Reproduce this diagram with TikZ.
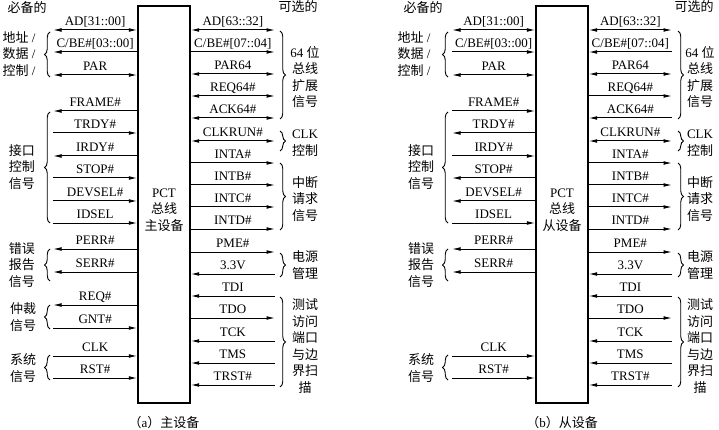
\documentclass[tikz,border=0pt]{standalone}
\usepackage{fontspec}
\setmainfont{Liberation Serif}
\newfontfamily\cjk{Noto Sans CJK SC}
\usetikzlibrary{arrows.meta,decorations.pathreplacing,calc}
\newcommand\zh[1]{{\cjk #1}}
\tikzset{
  sig/.style={line width=1pt, >={Latex[length=8.5pt,width=3.8pt]}},
  lab/.style={font=\fontsize{13}{15}\selectfont, inner sep=0pt, anchor=base, yshift=4.5pt},
  devbox/.style={draw, line width=1.4pt, minimum width=52pt, minimum height=397pt, inner sep=0pt},
  grp/.style={font=\fontsize{13}{16.6}\selectfont, align=center, inner sep=0pt},
  brc/.style={decorate, decoration={brace, amplitude=5.5pt}, line width=0.9pt},
}
% left-side signal: #1 box, #2 outer x, #3 y, #4 arrows, #5 label
\newcommand\lsig[5]{%
  \coordinate (#1l#3) at (#2,#3);
  \draw[sig,#4] (#1l#3) -- (#1l#3 -| #1.west) node[lab,midway] {#5};}
% right-side signal
\newcommand\rsig[5]{%
  \coordinate (#1r#3) at (#2,#3);
  \draw[sig,#4] (#1r#3 -| #1.east) -- (#1r#3) node[lab,midway] {#5};}
\begin{document}
\begin{tikzpicture}[x=1pt,y=-1pt]
\useasboundingbox (0,0) rectangle (719,430);
\fill[white] (0,0) rectangle (719,430);

% ---------------- panel (a) ----------------
\node[devbox] (mA) at (164,204.5) {};
\node[grp] (mAt) at (164,210) {PCT\\\zh{总线}\\\zh{主设备}};
\node[grp] (capA) at (164,423) {\zh{（}a\zh{）主设备}};
\node[grp] (reqA) at (27,8) {\zh{必备的}};
\node[grp] (optA) at (298,7) {\zh{可选的}};

\lsig{mA}{53}{30}{<->}{AD[31::00]}
\lsig{mA}{53}{52}{<-}{C/BE\#[03::00]}
\lsig{mA}{53}{75}{<->}{PAR}
\lsig{mA}{53}{111}{<-}{FRAME\#}
\lsig{mA}{53}{133}{->}{TRDY\#}
\lsig{mA}{53}{156}{<-}{IRDY\#}
\lsig{mA}{53}{178}{->}{STOP\#}
\lsig{mA}{53}{201}{->}{DEVSEL\#}
\lsig{mA}{53}{223}{->}{IDSEL}
\lsig{mA}{53}{249}{<-}{PERR\#}
\lsig{mA}{53}{272}{<-}{SERR\#}
\lsig{mA}{53}{305}{<-}{REQ\#}
\lsig{mA}{53}{328}{->}{GNT\#}
\lsig{mA}{53}{356}{->}{CLK}
\lsig{mA}{53}{378}{->}{RST\#}

\rsig{mA}{275}{30}{<->}{AD[63::32]}
\rsig{mA}{275}{52}{->}{C/BE\#[07::04]}
\rsig{mA}{275}{74}{<->}{PAR64}
\rsig{mA}{275}{96}{<->}{REQ64\#}
\rsig{mA}{275}{118}{<->}{ACK64\#}
\rsig{mA}{275}{141}{<->}{CLKRUN\#}
\rsig{mA}{275}{163}{->}{INTA\#}
\rsig{mA}{275}{185}{->}{INTB\#}
\rsig{mA}{275}{207}{->}{INTC\#}
\rsig{mA}{275}{229}{->}{INTD\#}
\rsig{mA}{275}{252}{->}{PME\#}
\rsig{mA}{275}{274}{<-}{3.3V}
\rsig{mA}{275}{296}{<-}{TDI}
\rsig{mA}{275}{318}{->}{TDO}
\rsig{mA}{275}{341}{<-}{TCK}
\rsig{mA}{275}{363}{<-}{TMS}
\rsig{mA}{275}{385}{<-}{TRST\#}

\draw[brc] (50,77) -- (50,32);
\draw[brc] (50,223) -- (50,112);
\draw[brc] (50,281) -- (50,249);
\draw[brc] (50,329) -- (50,305);
\draw[brc] (50,380) -- (50,355);
\draw[brc] (280,31) -- (280,119);
\draw[brc] (280,131) -- (280,151);
\draw[brc] (280,163) -- (280,230);
\draw[brc] (280,253) -- (280,277);
\draw[brc] (280,297) -- (280,387);

\node[grp] (gA1) at (19,54) {\zh{地址} /\\\zh{数据} /\\\zh{控制} /};
\node[grp] (gA2) at (22,167) {\zh{接口}\\\zh{控制}\\\zh{信号}};
\node[grp] (gA3) at (22,265) {\zh{错误}\\\zh{报告}\\\zh{信号}};
\node[grp] (gA4) at (23,317) {\zh{仲裁}\\\zh{信号}};
\node[grp] (gA5) at (23,368) {\zh{系统}\\\zh{信号}};
\node[grp] (gA6) at (305,77) {64 \zh{位}\\\zh{总线}\\\zh{扩展}\\\zh{信号}};
\node[grp] (gA7) at (305,143) {CLK\\\zh{控制}};
\node[grp] (gA8) at (305,199) {\zh{中断}\\\zh{请求}\\\zh{信号}};
\node[grp] (gA9) at (305,265) {\zh{电源}\\\zh{管理}};
\node[grp] (gA10) at (305,346) {\zh{测试}\\\zh{访问}\\\zh{端口}\\\zh{与边}\\\zh{界扫}\\\zh{描}};

% ---------------- panel (b) ----------------
\begin{scope}[xshift=398pt]
\node[devbox] (sB) at (164,204.5) {};
\node[grp] (sBt) at (164,210) {PCT\\\zh{总线}\\\zh{从设备}};
\node[grp] (capB) at (164,423) {\zh{（}b\zh{）从设备}};
\node[grp] (reqB) at (25,8) {\zh{必备的}};
\node[grp] (optB) at (296,7) {\zh{可选的}};

\lsig{sB}{54}{30}{<->}{AD[31::00]}
\lsig{sB}{54}{52}{->}{C/BE\#[03::00]}
\lsig{sB}{54}{75}{<->}{PAR}
\lsig{sB}{54}{111}{->}{FRAME\#}
\lsig{sB}{54}{133}{<-}{TRDY\#}
\lsig{sB}{54}{156}{->}{IRDY\#}
\lsig{sB}{54}{178}{<-}{STOP\#}
\lsig{sB}{54}{201}{<-}{DEVSEL\#}
\lsig{sB}{54}{223}{->}{IDSEL}
\lsig{sB}{54}{249}{<-}{PERR\#}
\lsig{sB}{54}{272}{<-}{SERR\#}
\lsig{sB}{54}{356}{->}{CLK}
\lsig{sB}{54}{378}{->}{RST\#}

\rsig{sB}{274}{30}{<->}{AD[63::32]}
\rsig{sB}{274}{52}{<-}{C/BE\#[07::04]}
\rsig{sB}{274}{74}{<->}{PAR64}
\rsig{sB}{274}{96}{->}{REQ64\#}
\rsig{sB}{274}{118}{<-}{ACK64\#}
\rsig{sB}{274}{141}{<->}{CLKRUN\#}
\rsig{sB}{274}{163}{->}{INTA\#}
\rsig{sB}{274}{185}{->}{INTB\#}
\rsig{sB}{274}{207}{->}{INTC\#}
\rsig{sB}{274}{229}{->}{INTD\#}
\rsig{sB}{274}{252}{->}{PME\#}
\rsig{sB}{274}{274}{<-}{3.3V}
\rsig{sB}{274}{296}{<-}{TDI}
\rsig{sB}{274}{318}{->}{TDO}
\rsig{sB}{274}{341}{<-}{TCK}
\rsig{sB}{274}{363}{<-}{TMS}
\rsig{sB}{274}{385}{<-}{TRST\#}

\draw[brc] (50,77) -- (50,32);
\draw[brc] (50,223) -- (50,112);
\draw[brc] (50,281) -- (50,249);
\draw[brc] (50,380) -- (50,355);
\draw[brc] (280,31) -- (280,119);
\draw[brc] (280,131) -- (280,151);
\draw[brc] (280,163) -- (280,230);
\draw[brc] (280,253) -- (280,277);
\draw[brc] (280,297) -- (280,387);

\node[grp] (gB1) at (16,54) {\zh{地址} /\\\zh{数据} /\\\zh{控制} /};
\node[grp] (gB2) at (23,167) {\zh{接口}\\\zh{控制}\\\zh{信号}};
\node[grp] (gB3) at (23,265) {\zh{错误}\\\zh{报告}\\\zh{信号}};
\node[grp] (gB5) at (23,368) {\zh{系统}\\\zh{信号}};
\node[grp] (gB6) at (302,77) {64 \zh{位}\\\zh{总线}\\\zh{扩展}\\\zh{信号}};
\node[grp] (gB7) at (302,143) {CLK\\\zh{控制}};
\node[grp] (gB8) at (302,199) {\zh{中断}\\\zh{请求}\\\zh{信号}};
\node[grp] (gB9) at (302,265) {\zh{电源}\\\zh{管理}};
\node[grp] (gB10) at (302,346) {\zh{测试}\\\zh{访问}\\\zh{端口}\\\zh{与边}\\\zh{界扫}\\\zh{描}};
\end{scope}
\end{tikzpicture}
\end{document}
